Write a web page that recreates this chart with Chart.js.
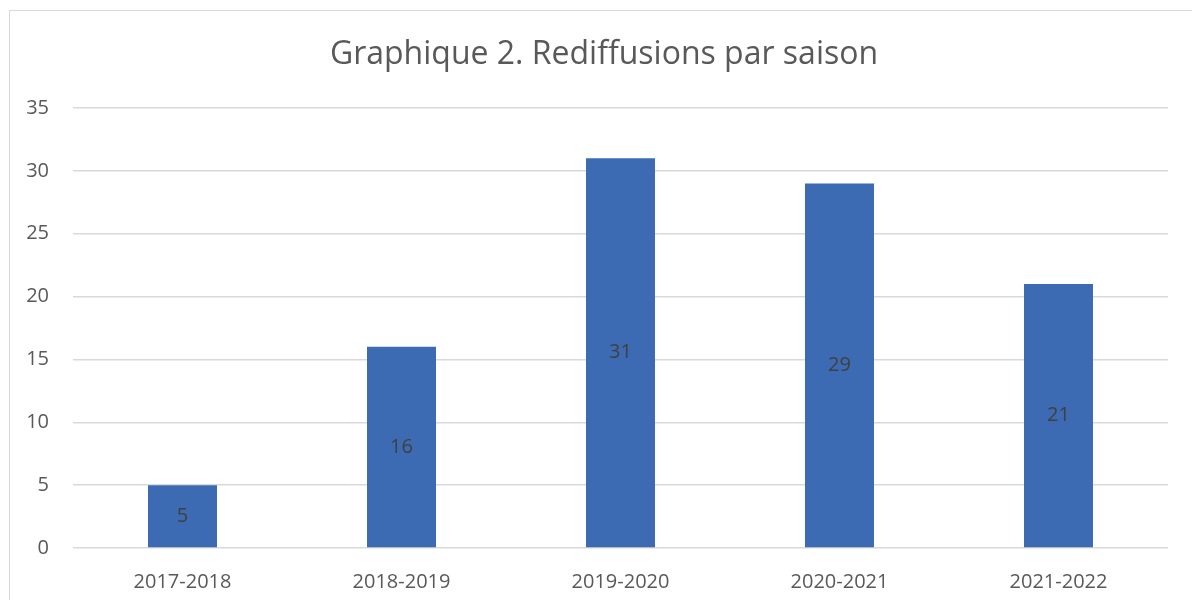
<!DOCTYPE html>
<html>
<head>
<meta charset="utf-8">
<script src="https://cdn.jsdelivr.net/npm/chart.js@4/dist/chart.umd.min.js"></script>
<style>
  html, body { margin: 0; padding: 0; background: #fff; overflow: hidden; }
  #wrap { position: relative; width: 1192px; height: 600px; }
  #cadre {
    position: absolute; left: 9px; top: 10px; width: 1200px; height: 600px;
    border: 1.5px solid #d9d9d9; box-sizing: border-box; pointer-events: none;
  }
  canvas { position: absolute; left: 0; top: 0; }
</style>
</head>
<body>
<div id="wrap">
  <canvas id="graphique" width="1192" height="600"></canvas>
  <div id="cadre"></div>
</div>
<script>
const saisons = ["2017-2018", "2018-2019", "2019-2020", "2020-2021", "2021-2022"];
const rediffusions = [5, 16, 31, 29, 21];
const ticksY = [0, 5, 10, 15, 20, 25, 30, 35];
const titre = "Graphique 2. Rediffusions par saison";

const POLICE = "'Open Sans', 'Noto Sans', sans-serif";

// titre centré sur le cadre (et non sur la zone du graphique)
const titreCadre = {
  id: "titreCadre",
  afterDraw(chart) {
    const ctx = chart.ctx;
    ctx.save();
    ctx.font = "32px " + POLICE;
    ctx.fillStyle = "#595959";
    ctx.textAlign = "center";
    ctx.textBaseline = "middle";
    ctx.fillText(titre, 604, 55);
    ctx.restore();
  }
};

// étiquettes de valeur au centre des barres
const etiquettesBarres = {
  id: "etiquettesBarres",
  afterDatasetsDraw(chart) {
    const ctx = chart.ctx;
    const meta = chart.getDatasetMeta(0);
    ctx.save();
    ctx.font = "20px " + POLICE;
    ctx.fillStyle = "#404040";
    ctx.textAlign = "center";
    ctx.textBaseline = "middle";
    meta.data.forEach((barre, i) => {
      const milieu = (barre.y + barre.base) / 2;
      ctx.fillText(String(rediffusions[i]), barre.x, milieu);
    });
    ctx.restore();
  }
};

new Chart(document.getElementById("graphique").getContext("2d"), {
  type: "bar",
  data: {
    labels: saisons,
    datasets: [{
      data: rediffusions,
      backgroundColor: "#3C6BB4",
      barPercentage: 0.315,
      categoryPercentage: 1
    }]
  },
  options: {
    responsive: false,
    animation: false,
    layout: { padding: { left: 0, right: 24, top: 108, bottom: 0 } },
    plugins: {
      legend: { display: false },
      tooltip: { enabled: false },
      title: { display: false }
    },
    scales: {
      x: {
        grid: { display: false },
        border: { display: false },
        ticks: { color: "#595959", font: { family: POLICE, size: 20 }, padding: 14 },
        afterFit(scale) { scale.height = 52; }
      },
      y: {
        min: 0,
        max: 35,
        afterBuildTicks(scale) { scale.ticks = ticksY.map(v => ({ value: v })); },
        grid: { color: "#d9d9d9", lineWidth: 1.5, drawTicks: false },
        border: { display: false },
        ticks: { color: "#595959", font: { family: POLICE, size: 20 }, padding: 24 },
        afterFit(scale) { scale.width = 73; }
      }
    }
  },
  plugins: [etiquettesBarres, titreCadre]
});
</script>
</body>
</html>
